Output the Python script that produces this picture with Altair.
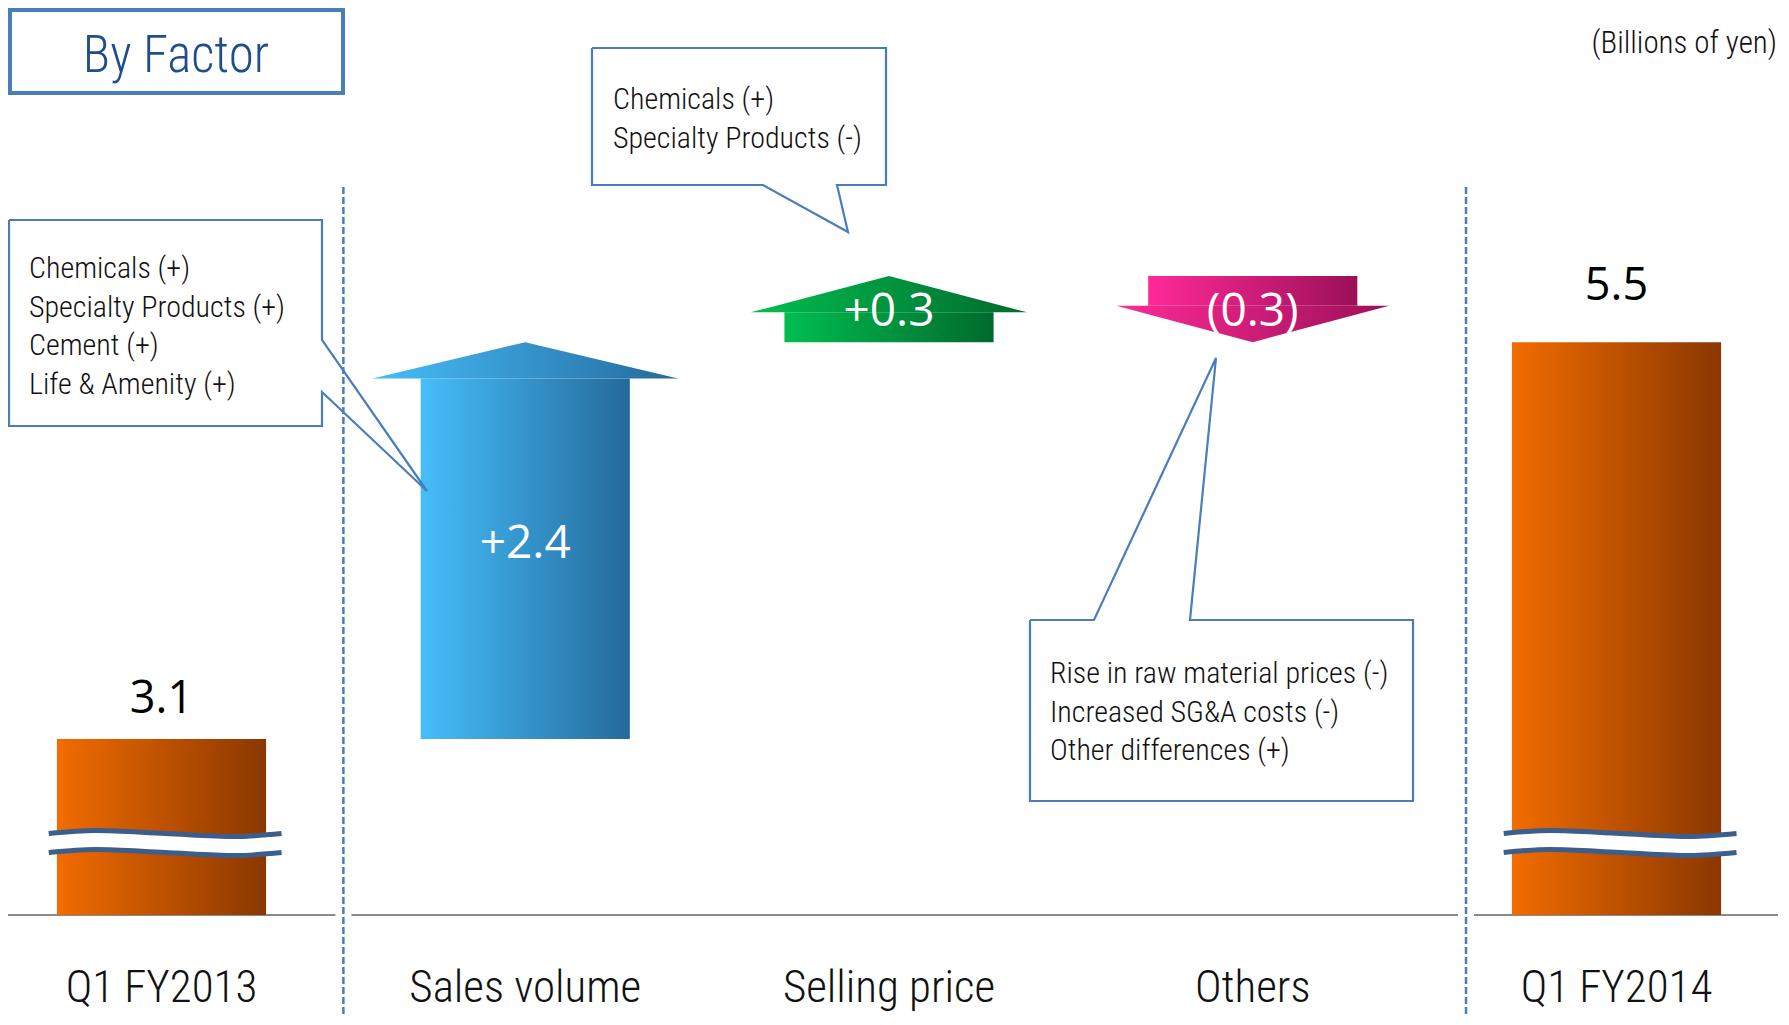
import altair as alt
import pandas as pd

# ---------------- data ----------------
categories = ["Q1 FY2013", "Sales volume", "Selling price", "Others", "Q1 FY2014"]
values = [3.1, 2.4, 0.3, -0.3, 5.5]
value_labels = ["3.1", "+2.4", "+0.3", "(0.3)", "5.5"]

callout_volume = ["Chemicals (+)", "Specialty Products (+)", "Cement (+)", "Life & Amenity (+)"]
callout_price = ["Chemicals (+)", "Specialty Products (-)"]
callout_others = ["Rise in raw material prices (-)", "Increased SG&A costs (-)", "Other differences (+)"]
title_text = "By Factor"
unit_text = "(Billions of yen)"

# ---------------- layout / style ----------------
NARROW = "'Liberation Sans Narrow', 'Roboto Condensed', 'DejaVu Sans Condensed', 'Liberation Sans', sans-serif"
NUMF = "'Open Sans', 'Noto Sans', sans-serif"
NW = 300

W, H = 1770, 1009
X0, STEP = 161.5, 363.75      # page px of category 0, px per category
VTOP, PXU = 7.52, 165.41      # value at top of plot, px per unit


def px2x(px):
    return (px - X0) / STEP


def py2y(py):
    return VTOP - (py - 8) / PXU


xs = alt.Scale(domain=[px2x(8), px2x(8 + W)], nice=False, zero=False)
ys = alt.Scale(domain=[py2y(8 + H), py2y(8)], nice=False, zero=False)


def X(f="x"):
    return alt.X(f"{f}:Q", scale=xs, axis=None)


def Y(f="y"):
    return alt.Y(f"{f}:Q", scale=ys, axis=None)


def grad(c0, c1):
    return {"gradient": "linear", "x1": 0, "x2": 1, "y1": 0, "y2": 0,
            "stops": [{"offset": 0, "color": c0}, {"offset": 1, "color": c1}]}


BASE = py2y(915)          # broken-axis baseline
BREAK = py2y(843)         # where the break symbol sits
BAR_HALF = 0.2875
HEAD = 0.22
MIN_LEN = 0.4
ARROW_STYLE = {1: ("#46BEFA", "#246A9C", 0.42),
               2: ("#00BE50", "#006A2C", 0.38),
               3: ("#FF2A98", "#9C1058", 0.375)}
ORANGE = grad("#F26C00", "#8A3700")
BLUE_LINE = "#4A7EBB"

layers = []

# separators (dashed)
sep_x = [0.5, px2x(1466)]
sep_df = pd.DataFrame({"x": sep_x, "y": [py2y(187)] * 2, "y2": [py2y(1040)] * 2})
layers.append(alt.Chart(sep_df).mark_rule(color=BLUE_LINE, strokeWidth=2.5, strokeDash=[7, 3])
              .encode(x=X(), y=Y(), y2="y2:Q"))

# baseline, interrupted at separators
gap = 8 / STEP
xd = xs.domain
segs = [(xd[0], sep_x[0] - gap), (sep_x[0] + gap, sep_x[1] - gap), (sep_x[1] + gap, xd[1])]
base_df = pd.DataFrame({"x": [s[0] for s in segs], "x2": [s[1] for s in segs], "y": [BASE] * 3})
layers.append(alt.Chart(base_df).mark_rule(color="#8A8A8A", strokeWidth=2.2)
              .encode(x=X(), x2="x2:Q", y=Y()))

# total bars
tot_idx = [0, len(categories) - 1]
tot_df = pd.DataFrame({
    "x": [i - BAR_HALF for i in tot_idx],
    "x2": [i + BAR_HALF for i in tot_idx],
    "y": [BASE for _ in tot_idx],
    "y2": [values[i] for i in tot_idx],
})
layers.append(alt.Chart(tot_df).mark_rect(fill=ORANGE).encode(x=X(), x2="x2:Q", y=Y(), y2="y2:Q"))

# change arrows
disp = values[0]
arrow_labels = []
for i in range(1, len(categories) - 1):
    d = values[i]
    s = 1 if d > 0 else -1
    L = s * max(abs(d), MIN_LEN)
    start, end = disp, disp + L
    hb = end - s * HEAD
    disp = end
    c0, c1, hh = ARROW_STYLE[i]
    shaft = pd.DataFrame({"x": [i - BAR_HALF], "x2": [i + BAR_HALF], "y": [start], "y2": [hb]})
    layers.append(alt.Chart(shaft).mark_rect(fill=grad(c0, c1))
                  .encode(x=X(), x2="x2:Q", y=Y(), y2="y2:Q"))
    head = pd.DataFrame({"x": [i - hh, i, i + hh], "y": [hb, end, hb], "y2": [hb, hb, hb]})
    layers.append(alt.Chart(head).mark_area(fill=grad(c0, c1), strokeWidth=0)
                  .encode(x=X(), y=Y(), y2="y2:Q"))
    arrow_labels.append({"x": i, "y": (start + end) / 2, "t": value_labels[i]})

# break symbols
u = [0, 0.2, 0.5, 0.8, 1.0]
wave = [0, -3, 0, 3, 0]
band_rows, line_rows = [], []
for i in tot_idx:
    for k in range(len(u)):
        xx = i - 0.31 + u[k] * 0.64
        up = BREAK + (9.5 - wave[k]) / PXU
        lo = BREAK - (9.5 + wave[k]) / PXU
        band_rows.append({"x": xx, "y": up, "y2": lo, "g": str(i)})
        line_rows.append({"x": xx, "y": up, "g": f"{i}u"})
        line_rows.append({"x": xx, "y": lo, "g": f"{i}l"})
layers.append(alt.Chart(pd.DataFrame(band_rows)).mark_area(color="white", interpolate="monotone")
              .encode(x=X(), y=Y(), y2="y2:Q", detail="g:N"))
layers.append(alt.Chart(pd.DataFrame(line_rows)).mark_line(color="#3B5E8C", strokeWidth=5,
                                                            interpolate="monotone")
              .encode(x=X(), y=Y(), detail="g:N"))

# callout outlines (page px)
polys = {
    "vol": [(9, 220), (322, 220), (322, 340), (427, 491), (322, 392), (322, 426), (9, 426), (9, 220)],
    "price": [(592, 48), (886, 48), (886, 185), (837, 185), (848, 232), (763, 185), (592, 185), (592, 48)],
    "oth": [(1030, 620), (1094, 620), (1216, 358), (1190, 620), (1413, 620), (1413, 801),
            (1030, 801), (1030, 620)],
}
poly_rows = []
for g, pts in polys.items():
    for o, (px, py) in enumerate(pts):
        poly_rows.append({"x": px2x(px), "y": py2y(py), "g": g, "o": o})
layers.append(alt.Chart(pd.DataFrame(poly_rows)).mark_line(color=BLUE_LINE, strokeWidth=2.2,
                                                            strokeJoin="miter")
              .encode(x=X(), y=Y(), detail="g:N", order="o:Q"))

# title box
tb = pd.DataFrame({"x": [px2x(10)], "x2": [px2x(343)], "y": [py2y(10)], "y2": [py2y(93)]})
layers.append(alt.Chart(tb).mark_rect(fill="white", stroke=BLUE_LINE, strokeWidth=4)
              .encode(x=X(), x2="x2:Q", y=Y(), y2="y2:Q"))


def text_layer(df, **kw):
    return alt.Chart(df).mark_text(**kw).encode(x=X(), y=Y(), text="t:N")


# title and unit
layers.append(text_layer(pd.DataFrame({"x": [px2x(176)], "y": [py2y(72)], "t": [title_text]}),
                         font=NARROW, fontSize=51, fontWeight=NW, color="#1F4E8A", align="center",
                         baseline="alphabetic"))
layers.append(text_layer(pd.DataFrame({"x": [px2x(1777)], "y": [py2y(53)], "t": [unit_text]}),
                         font=NARROW, fontSize=31, fontWeight=NW, color="#111111", align="right",
                         baseline="alphabetic"))

# callout texts
cl_rows = []
for lines, x0, y0 in [(callout_volume, 29, 278), (callout_price, 613, 109), (callout_others, 1050, 683)]:
    for k, t in enumerate(lines):
        cl_rows.append({"x": px2x(x0), "y": py2y(y0 + k * 38.5), "t": t})
layers.append(text_layer(pd.DataFrame(cl_rows), font=NARROW, fontSize=30, fontWeight=NW,
                         color="#111111", align="left", baseline="alphabetic"))

# value labels on totals
layers.append(text_layer(pd.DataFrame({"x": [0], "y": [values[0]], "t": [value_labels[0]]}),
                         font=NUMF, fontSize=45, color="black", align="center",
                         baseline="alphabetic", dy=-26))
last = len(categories) - 1
layers.append(text_layer(pd.DataFrame({"x": [last], "y": [values[last]], "t": [value_labels[last]]}),
                         font=NUMF, fontSize=45, color="black", align="center",
                         baseline="alphabetic", dy=-42))

# labels on arrows
layers.append(text_layer(pd.DataFrame(arrow_labels), font=NUMF, fontSize=46, color="white",
                         align="center", baseline="alphabetic", dy=17))

# category labels
cat_df = pd.DataFrame({"x": list(range(len(categories))), "y": [BASE] * len(categories), "t": categories})
layers.append(text_layer(cat_df, font=NARROW, fontSize=45, fontWeight=NW, color="#111111",
                         align="center", baseline="alphabetic", dy=87))

chart = (alt.layer(*layers)
         .properties(width=W, height=H, autosize=alt.AutoSizeParams(type="none"), padding=0)
         .configure_view(stroke=None))

chart.save("out.html", embed_options={"renderer": "svg", "actions": False})
